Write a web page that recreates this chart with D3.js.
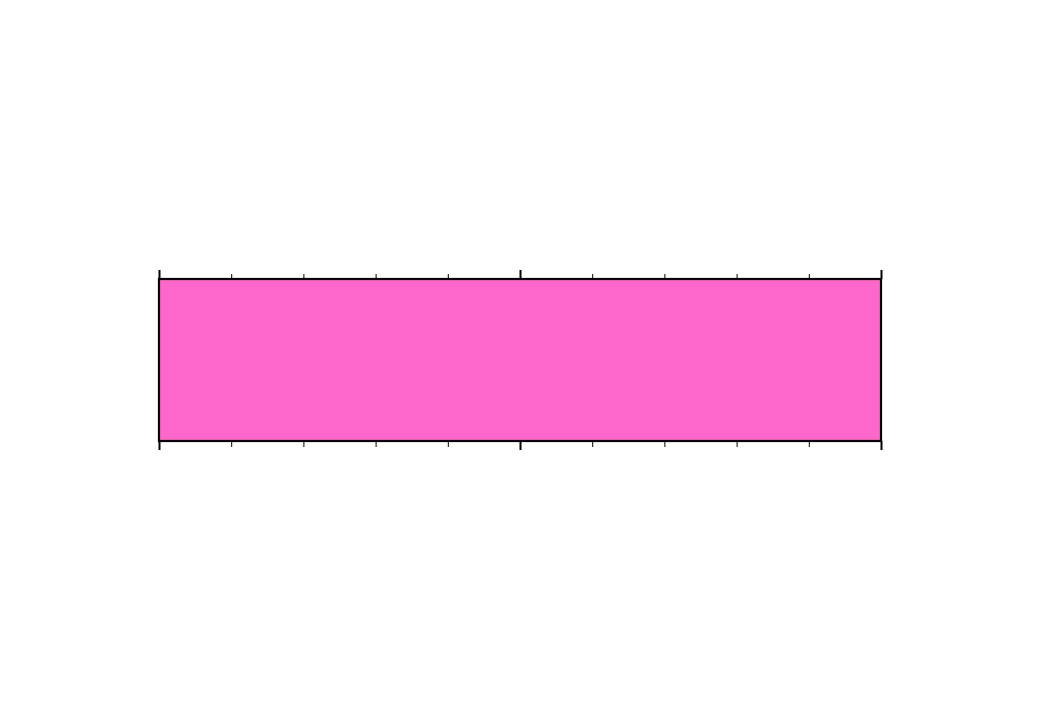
<!DOCTYPE html>
<html>
<head>
<meta charset="utf-8">
<script src="https://cdn.jsdelivr.net/npm/d3@7"></script>
<style>
  body { margin: 0; background: #fff; }
</style>
</head>
<body>
<div id="chart"></div>
<script>
// data
const xDomain = [0, 10];
const yDomain = [0, 1];
const majorTicks = [0, 5, 10];
const minorTicks = [1, 2, 3, 4, 6, 7, 8, 9];
const bandStart = [0];
const bandEnd = [10];
const bandBottom = [0];
const bandTop = [1];

const width = 1040, height = 720;
const margin = {top: 279, right: 159, bottom: 279, left: 159};

const svg = d3.select("#chart").append("svg")
    .attr("width", width)
    .attr("height", height);

const x = d3.scaleLinear().domain(xDomain).range([margin.left, width - margin.right]);
const y = d3.scaleLinear().domain(yDomain).range([height - margin.bottom, margin.top]);

// filled band
svg.append("g")
  .selectAll("rect")
  .data(bandStart.map((s, i) => ({x0: s, x1: bandEnd[i], y0: bandBottom[i], y1: bandTop[i]})))
  .join("rect")
    .attr("x", d => x(d.x0))
    .attr("y", d => y(d.y1))
    .attr("width", d => x(d.x1) - x(d.x0))
    .attr("height", d => y(d.y0) - y(d.y1))
    .attr("fill", "#ff66cc");

// ticks top and bottom
function addAxis(axisFn, ypos, ticks, size, sw) {
  const g = svg.append("g")
      .attr("transform", `translate(0,${ypos})`)
      .call(axisFn(x).tickValues(ticks).tickSize(size).tickFormat(""));
  g.select(".domain").remove();
  g.selectAll(".tick line").attr("stroke", "#000").attr("stroke-width", sw);
}
addAxis(d3.axisTop, y(yDomain[1]), minorTicks, 5, 1);
addAxis(d3.axisBottom, y(yDomain[0]), minorTicks, 6, 1);
addAxis(d3.axisTop, y(yDomain[1]), majorTicks, 9, 2);
addAxis(d3.axisBottom, y(yDomain[0]), majorTicks, 9, 2);

// frame
svg.append("rect")
    .attr("x", x(xDomain[0]))
    .attr("y", y(yDomain[1]))
    .attr("width", x(xDomain[1]) - x(xDomain[0]))
    .attr("height", y(yDomain[0]) - y(yDomain[1]))
    .attr("fill", "none")
    .attr("stroke", "#000")
    .attr("stroke-width", 2.2);
</script>
</body>
</html>
